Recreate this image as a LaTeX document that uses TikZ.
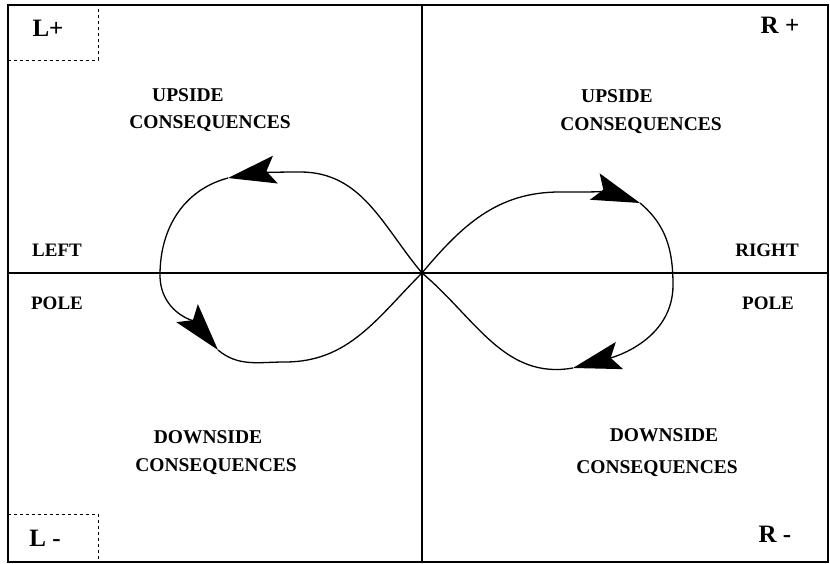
\documentclass[tikz,border=0pt]{standalone}
\usepackage{fontspec}
\setmainfont{Liberation Serif}
\usetikzlibrary{arrows.meta}
\tikzset{
 frame/.style={draw=black, line width=1.2pt},
 axis/.style={draw=black, line width=1.1pt},
 cornerbox/.style={draw=black, dashed, line width=0.6pt},
 quadtext/.style={font=\fontsize{19.5}{22}\selectfont\bfseries, inner sep=0pt},
 poletext/.style={font=\fontsize{19}{22}\selectfont\bfseries, inner sep=0pt},
 cornertext/.style={font=\fontsize{25}{28}\selectfont\bfseries, inner sep=0pt},
 curve/.style={draw=black, line width=1.3pt},
 loop/.style={curve, -{Stealth[length=48pt,width=28pt,inset=9pt]}}
}
\begin{document}
\begin{tikzpicture}[x=1pt,y=1pt]
\useasboundingbox (0,0) rectangle (830,564);
% frame and cross
\draw[frame] (8,2) rectangle (828,559);
\draw[cornerbox] (8,504) -- (98,504) -- (98,559);
\draw[cornerbox] (8,50) -- (98,50) -- (98,2);
\draw[axis] (8,291) -- (828,291);
\draw[axis] (422,2) -- (422,559);
% corner marks
\node[cornertext] (lplus) at (48,536) {L+};
\node[cornertext] (rplus) at (780,539) {R +};
\node[cornertext] (lminus) at (45,26) {L -};
\node[cornertext] (rminus) at (775,30) {R -};
% poles
\node[poletext] (lname) at (57,314) {LEFT};
\node[poletext] (lpole) at (57,261) {POLE};
\node[poletext] (rname) at (767,314) {RIGHT};
\node[poletext] (rpole) at (768,261) {POLE};
% quadrants
\node[quadtext] (lup) at (188,469) {UPSIDE};
\node[quadtext] (lupc) at (210,440) {CONSEQUENCES};
\node[quadtext] (rup) at (617,468) {UPSIDE};
\node[quadtext] (rupc) at (641,438) {CONSEQUENCES};
\node[quadtext] (ldown) at (208,127) {DOWNSIDE};
\node[quadtext] (ldownc) at (216,97) {CONSEQUENCES};
\node[quadtext] (rdown) at (664,129) {DOWNSIDE};
\node[quadtext] (rdownc) at (657,95) {CONSEQUENCES};
% infinity loop
\coordinate (c) at (422,291);
\coordinate (ltop) at (300,392);
\coordinate (la) at (228,386);
\coordinate (lw) at (160,289);
\coordinate (lb) at (218,214);
\coordinate (lbot) at (285,202);
\coordinate (rtop) at (560,372);
\coordinate (ra) at (640,361);
\coordinate (re) at (673,279);
\coordinate (rb) at (573,196);
\draw[loop] (c) to[out=130,in=0] (ltop) to[out=180,in=10] (la);
\draw[loop] (la) to[out=195,in=90] (lw) to[out=270,in=130] (lb);
\draw[curve] (lb) to[out=-40,in=180] (lbot) to[out=0,in=225] (c);
\draw[loop] (c) to[out=50,in=180] (rtop) to[out=0,in=160] (ra);
\draw[loop] (ra) to[out=-40,in=90] (re) to[out=270,in=15] (rb);
\draw[curve] (rb) to[out=190,in=-40] (c);
\end{tikzpicture}
\end{document}
